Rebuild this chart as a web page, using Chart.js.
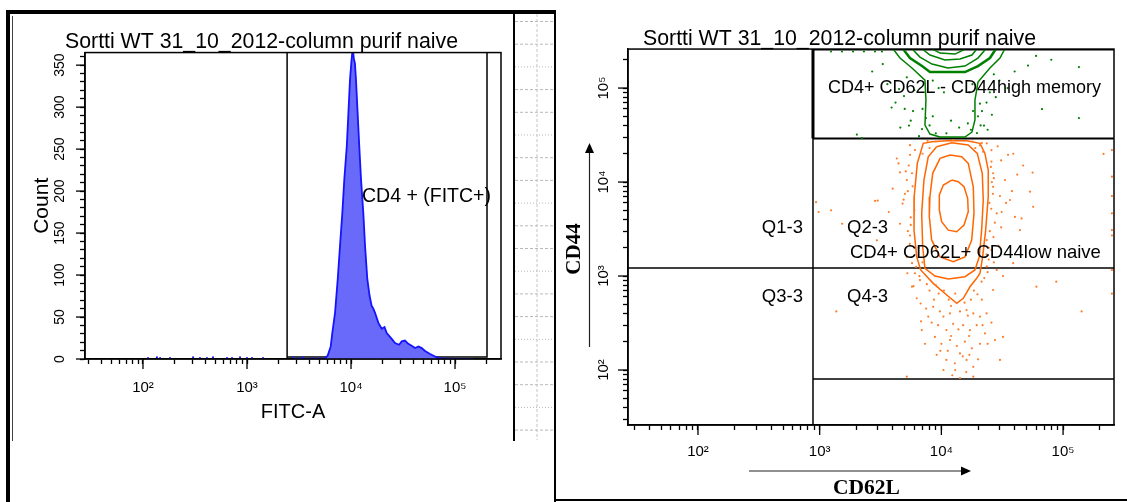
<!DOCTYPE html>
<html>
<head>
<meta charset="utf-8">
<title>Sortti WT 31_10_2012-column purif naive</title>
<script src="https://cdn.jsdelivr.net/npm/chart.js@4.4.1/dist/chart.umd.min.js"></script>
<style>
html,body{margin:0;padding:0;background:#fff;}
body{width:1127px;height:502px;position:relative;overflow:hidden;font-family:"Liberation Sans",Arial,sans-serif;color:#000;}
canvas{position:absolute;top:0;}
#left{left:0;}
#right{left:556px;}
svg{position:absolute;left:0;top:0;pointer-events:none;}
.t{position:absolute;white-space:nowrap;line-height:1;font-family:"Liberation Sans",Arial,sans-serif;}
.serif{font-family:"Liberation Serif","Times New Roman",serif;font-weight:bold;}
</style>
</head>
<body>
<canvas id="left" width="520" height="432"></canvas>
<canvas id="right" width="571" height="502"></canvas>
<svg id="deco" width="1127" height="502"></svg>

<div class="t" style="left:362px;top:185.5px;font-size:19.5px">CD4 + (FITC+)</div>
<div class="t" style="left:828px;top:78px;font-size:18px">CD4+ CD62L - CD44high memory</div>
<div class="t" style="right:324px;top:218px;font-size:18.5px">Q1-3</div>
<div class="t" style="left:847px;top:218px;font-size:18.5px">Q2-3</div>
<div class="t" style="left:850px;top:243px;font-size:18.5px">CD4+ CD62L+ CD44low naive</div>
<div class="t" style="right:324px;top:287px;font-size:18.5px">Q3-3</div>
<div class="t" style="left:847px;top:287px;font-size:18.5px">Q4-3</div>
<div class="t serif" style="left:573px;top:249px;font-size:21px;transform:translate(-50%,-50%) rotate(-90deg);">CD44</div>
<div class="t serif" style="left:833px;top:477px;font-size:21.5px">CD62L</div>

<script>
// ================= DATA =================
const chartTitle = 'Sortti WT 31_10_2012-column purif naive';
const decadeLabels = {100: '10\u00B2', 1000: '10\u00B3', 10000: '10\u2074', 100000: '10\u2075'};
const decadeValues = [100, 1000, 10000, 100000];
const countTicks = [0,10,20,30,40,50,60,70,80,90,100,110,120,130,140,150,160,170,180,190,200,210,220,230,240,250,260,270,280,290,300,310,320,330,340,350,360];
const countTickLabels = [0, 50, 100, 150, 200, 250, 300, 350];

// ---- Histogram (FITC-A vs Count) ----
const fitcValues = [2800,5500,5970,6380,6610,7020,7450,7840,8250,8620,9100,9430,9780,10100,10370,10650,10910,11160,11590,12010,12480,13130,13640,14350,15100,15820,16400,17020,18320,19740,21000,22040,24620,26490,29000,30740,33000,35570,38000,41230,44500,47830,51510,57540,64300,69060,80200,100000,150000];
const fitcCounts = [0,0,4,15,31,55,95,135,174,214,253,292,333,355,370,358,352,333,292,253,214,174,135,95,75,63,60,55,43,36,38,31,24,19,17,21,22,18,16,13,15,13,9.5,6,3,1,0.5,0,0];
const lowFitcValues = [112,136,146,182,303,353,412,471,642,718,857,1000,1117,1425,2770,3233,3455,4310,5035];
const lowFitcCounts = [1,2,1,1,2,1,1,2,1,1,2,1,1,1,2,1,2,1,1];
const fitcGateX = [2430, 203000];
const fitcGateFloor = 2.4;

// ---- CD62L vs CD44 plot ----
const qSplitCD62L = 881;
const qSplitCD44 = 1217;
const memoryGateCD44 = 29000;
const naiveGateFloorCD44 = 80;

const naiveContour1 = [[8320,26850],[7100,25820],[6340,15810],[5980,6980],[5960,3080],[6270,1600],[6760,1160],[8570,836],[11070,628],[13370,513],[15140,579],[17180,769],[19500,946],[20750,1070],[21830,1600],[23120,3080],[24270,6980],[24270,13430],[22800,20180],[20750,25820],[16140,27480],[11070,27480],[8320,26850]];
const naiveContour2 = [[9140,23770],[7800,18580],[7190,10500],[6890,4640],[7020,2050],[7330,1210],[8850,1000],[11400,929],[15630,984],[18880,1160],[20480,1600],[21420,3080],[22090,6440],[21680,12390],[19720,20180],[16630,24770],[12160,26180],[9140,23770]];
const naiveContour3 = [[11780,19360],[9750,17860],[8490,12390],[8050,6980],[7960,4280],[8320,2420],[9750,1600],[12530,1420],[15630,1600],[17750,2420],[18540,4640],[18290,8910],[16630,15810],[14690,18580],[11780,19360]];
const naiveContour4 = [[12160,10500],[10380,9290],[9620,7280],[9620,5040],[10050,3790],[11400,3080],[13370,2960],[15350,3490],[16630,4830],[16440,6710],[15350,8910],[13770,10070],[12160,10500]];

const memoryContour1 = [[4000,262000],[4570,208600],[5730,163300],[7330,121600],[7470,74500],[7330,40400],[8060,32400],[9740,30100],[15630,30100],[17830,34000],[18880,45700],[18880,74500],[19990,115900],[25060,163300],[30290,208600],[33310,262000]];
const memoryContour2 = [[4830,262000],[5520,208600],[6930,171400],[8060,147900],[15630,147900],[19990,171400],[25060,208600],[28100,262000]];
const memoryContour3 = [[5730,262000],[6670,213800],[8370,180000],[11330,163300],[15630,171400],[19990,208600],[23250,262000]];
const memoryContour4 = [[6930,262000],[8060,224500],[10710,198600],[14220,203700],[17830,224500],[19620,262000]];
const memoryContour5 = [[8370,262000],[9740,235500],[12930,230000],[15930,262000]];

const naiveDots = [
[933,6100],[980,4800],[1240,5000],[1530,3600],[1370,420],
[2850,6300],[3000,6350],[3700,4800],[3980,8500],[4300,17800],[4440,15800],[4570,3600],[2950,2400],[5200,10500],[5250,1070],[5520,19500],[5740,770],[5020,7500],[6270,580],[6760,510],
[25800,16500],[26600,12400],[30300,7100],[31300,4800],[35300,19500],[36600,6440],[40200,4250],[44200,3085],[45600,4100],[53500,7900],[56200,12600],[56800,5450],[60400,770],[87900,870],[142000,420],[215000,19900],
[252000,21900],[252000,11400],[252000,7100],[252000,4650],[252000,3085],[252000,2700],[252000,1160],[252000,650],
[5740,12400],[6070,21900],[20750,24700],[23600,25800],[25800,21900],
[5520,2700],[5200,1600],[5740,1370],[6070,1070],[6670,906],[5900,780],
[23600,2415],[25800,1890],[23600,1265],[21400,870],[28500,1160],[32100,1000],[38900,1370],[26600,710],
[8570,470],[9730,420],[10400,370],[11770,400],[14220,420],[16100,435],[18300,400],[20750,370],
[8320,320],[9400,300],[11000,266],[12500,310],[15100,300],[17180,266],[19500,300],[22800,245],
[8850,225],[10000,190],[11770,208],[13400,180],[15600,200],[17800,170],[20750,190],
[9150,145],[11000,128],[12900,118],[14220,150],[16100,128],[18300,108],
[10400,100],[12300,88],[14220,82],[18300,85],
[7800,370],[6900,266],[7330,190],[25800,320],[27550,208],[32100,225],[30300,128],[5200,85],
[5520,24700],[4570,12700],[4800,5900],[26600,8900],[28500,4650],[33300,10500],
[8000,700],[8700,560],[9500,650],[12000,480],[17500,560],[19800,640],[21500,560],[7600,820],[22500,950],[24000,1100],[7000,1400],[6500,2000],[24500,1500],[25000,3000],[5600,3500],[6000,5000],[24800,6000],[5800,9000],[26000,10000],[7000,20000],[8000,23000],[22000,21000],[19000,23000],
[5400,15000],[5100,13000],[5300,8000],[4900,6500],[5600,4200],[5300,3000],[5500,2200],[6200,1250],[6600,1000],
[25500,14500],[27000,11000],[26500,7500],[25700,5200],[27500,3700],[26800,2600],[24500,2000],[23500,1700],[27000,1400],[29500,2100],[31000,3300],[34000,6000],[38000,8000],[42000,12000],[47000,15000],[39000,20000],[29000,24000],[31000,17000],
[11500,560],[13000,650],[15500,520],[10500,700],[9000,800],[18500,700],[16500,380],[13800,270],[12000,230],[16900,230],[21800,300],[23500,400],[7500,450],[6800,330],[24000,190],[9800,160],[15000,140],[20000,130],[13000,100],[16000,95],[11300,160],[17000,145],
[9000,27000],[12500,28000],[18000,27000],[21500,26000],[7700,27500]
];

const memoryDots = [
[1240,245000],[1525,245000],[1880,245000],[2310,245000],[2850,245000],[3250,245000],
[2020,32000],[2230,29400],[51500,173400],[135000,167100],[67100,59800],[135000,47900],
[20750,68200],[21560,56900],[22400,39900],[18200,56900],[7470,47900],[6930,36600],[6550,30800],[5850,56900],[5420,39900],[19600,33200],[4490,97500],[4930,82200],
[5000,60000],[5600,45000],[8000,40000],[16500,42000],[23500,70000],[26000,52000],[24000,36000],[9000,33000],[4200,70000],[28000,80000],[30000,120000],[3600,110000],
[8500,120000],[9500,100000],[10500,90000],[17000,90000],[18000,110000],[6000,95000],[5200,130000],[3300,180000],[2700,150000],[40000,150000],[60000,220000],[80000,200000],[7000,60000],[20000,50000],[21000,40000],[17500,36000],[8500,50000],[12000,45000],[14000,38000],[11000,33000],[3900,62000],[4600,38000],[25000,90000],[35000,100000],[27000,140000]
];

// ================= HELPERS =================
const FONT = "'Liberation Sans', Arial, sans-serif";
const pairs = arr => arr.map(p => ({x: p[0], y: p[1]}));
const zip = (xs, ys) => xs.map((x, i) => ({x: x, y: ys[i]}));
function logTicks(scale) {
  const out = [];
  for (let e = 1; e <= 5; e++) for (let m = 1; m <= 9; m++) {
    const v = m * Math.pow(10, e);
    if (v >= scale.min && v <= scale.max) out.push({value: v});
  }
  scale.ticks = out;
}
const decadeLabel = v => decadeLabels[v] || '';

const framePlugin = {
  id: 'frame',
  afterDraw(chart) {
    const a = chart.chartArea, ctx = chart.ctx;
    ctx.save(); ctx.strokeStyle = '#000'; ctx.lineWidth = 1.5;
    ctx.strokeRect(a.left, a.top, a.right - a.left, a.bottom - a.top);
    ctx.restore();
  }
};
const majorTickPlugin = {
  id: 'majorTicks',
  afterDraw(chart, args, opts) {
    const ctx = chart.ctx;
    ctx.save(); ctx.strokeStyle = '#000'; ctx.lineWidth = 1.3;
    (opts.axes || []).forEach(a => {
      const s = chart.scales[a.id];
      a.values.forEach(v => {
        if (v < s.min || v > s.max) return;
        const p = s.getPixelForValue(v);
        ctx.beginPath();
        if (s.isHorizontal()) { ctx.moveTo(p, s.top); ctx.lineTo(p, s.top + a.len); }
        else { ctx.moveTo(s.right, p); ctx.lineTo(s.right - a.len, p); }
        ctx.stroke();
      });
    });
    ctx.restore();
  }
};

Chart.defaults.color = '#000';
Chart.defaults.font.family = FONT;

const baseAxis = {
  grid: {drawOnChartArea: false, drawTicks: true, tickLength: 5, tickColor: '#000', tickWidth: 1.3},
  border: {display: true, color: '#000', width: 1.5}
};

// ================= LEFT: histogram =================
new Chart(document.getElementById('left'), {
  type: 'line',
  data: {
    datasets: [
      {data: zip(fitcValues, fitcCounts), borderColor: 'rgb(20,20,255)', backgroundColor: 'rgb(106,106,250)', borderWidth: 1.8, fill: 'origin', pointRadius: 0, tension: 0},
      {data: zip(lowFitcValues, lowFitcCounts), showLine: false, pointRadius: 1.1, pointBackgroundColor: 'rgb(30,30,255)', pointBorderWidth: 0},
      {data: [{x: fitcGateX[0], y: 365}, {x: fitcGateX[0], y: 0}], borderColor: '#000', borderWidth: 1.5, pointRadius: 0, fill: false},
      {data: [{x: fitcGateX[0], y: fitcGateFloor}, {x: fitcGateX[1], y: fitcGateFloor}, {x: fitcGateX[1], y: 365}], borderColor: '#000', borderWidth: 1.5, pointRadius: 0, fill: false}
    ]
  },
  options: {
    responsive: false, animation: false, devicePixelRatio: 1, events: [],
    layout: {padding: {left: 22, right: 19, top: 0, bottom: 0}},
    plugins: {
      legend: {display: false}, tooltip: {enabled: false},
      title: {display: true, text: chartTitle, color: '#000', font: {size: 21.3, weight: 'normal', family: FONT}, padding: {top: 29, bottom: -2}},
      majorTicks: {axes: [{id: 'x', values: decadeValues, len: 10}, {id: 'y', values: countTickLabels, len: 9}]}
    },
    scales: {
      x: Object.assign({}, baseAxis, {
        type: 'logarithmic', min: 27.7, max: 276700,
        afterBuildTicks: logTicks,
        afterFit: s => { s.height = 73; },
        ticks: {callback: decadeLabel, autoSkip: false, maxRotation: 0, minRotation: 0, padding: 15, font: {size: 15, family: FONT}},
        title: {display: true, text: 'FITC-A', font: {size: 20, family: FONT}, padding: {top: 0, bottom: 8}}
      }),
      y: Object.assign({}, baseAxis, {
        type: 'linear', min: 0, max: 365,
        afterBuildTicks: s => { s.ticks = countTicks.map(v => ({value: v})); },
        afterFit: s => { s.width = 63; },
        ticks: {callback: v => countTickLabels.includes(v) ? String(v) : '', autoSkip: false, minRotation: 90, maxRotation: 90, crossAlign: 'center', padding: 8, font: {size: 14, family: FONT}},
        title: {display: true, text: 'Count', font: {size: 21, family: FONT}, padding: {top: 8, bottom: 0}}
      })
    }
  },
  plugins: [framePlugin, majorTickPlugin]
});

// ================= RIGHT: CD62L vs CD44 =================
const orange = 'rgb(255,102,0)', orangeDot = 'rgb(255,125,40)', green = 'rgb(0,128,0)';
const contourDs = (arr, col, w) => ({data: pairs(arr), borderColor: col, borderWidth: w || 1.5, pointRadius: 0, fill: false, tension: 0});
const lineDs = (pts, w) => ({data: pts, borderColor: '#000', borderWidth: w, pointRadius: 0, fill: false});
const XMIN = 26.6, XMAX = 262144, YMIN = 26, YMAX = 260000;

new Chart(document.getElementById('right'), {
  type: 'line',
  data: {
    datasets: [
      {data: pairs(naiveDots), showLine: false, pointRadius: 1.1, pointBackgroundColor: orangeDot, pointBorderWidth: 0},
      {data: pairs(memoryDots), showLine: false, pointRadius: 1.1, pointBackgroundColor: green, pointBorderWidth: 0},
      contourDs(naiveContour1, orange), contourDs(naiveContour2, orange), contourDs(naiveContour3, orange), contourDs(naiveContour4, orange),
      contourDs(memoryContour1, green), contourDs(memoryContour2, green, 2.5), contourDs(memoryContour3, green), contourDs(memoryContour4, green), contourDs(memoryContour5, green),
      lineDs([{x: qSplitCD62L, y: YMIN}, {x: qSplitCD62L, y: YMAX}], 1.5),
      lineDs([{x: XMIN, y: qSplitCD44}, {x: XMAX, y: qSplitCD44}], 1.5),
      lineDs([{x: qSplitCD62L, y: naiveGateFloorCD44}, {x: XMAX, y: naiveGateFloorCD44}], 1.5),
      lineDs([{x: qSplitCD62L, y: memoryGateCD44}, {x: XMAX, y: memoryGateCD44}], 2),
      lineDs([{x: qSplitCD62L, y: memoryGateCD44}, {x: qSplitCD62L, y: YMAX}, {x: XMAX, y: YMAX}], 3)
    ]
  },
  options: {
    responsive: false, animation: false, devicePixelRatio: 1, events: [],
    layout: {padding: {left: 9, right: 13, top: 0, bottom: 0}},
    plugins: {
      legend: {display: false}, tooltip: {enabled: false},
      title: {display: true, text: chartTitle, color: '#000', font: {size: 21.3, weight: 'normal', family: FONT}, padding: {top: 26, bottom: -2.5}},
      majorTicks: {axes: [{id: 'x', values: decadeValues, len: 10}, {id: 'y', values: decadeValues, len: 10}]}
    },
    scales: {
      x: Object.assign({}, baseAxis, {
        type: 'logarithmic', min: XMIN, max: XMAX,
        afterBuildTicks: logTicks,
        afterFit: s => { s.height = 77; },
        ticks: {callback: decadeLabel, autoSkip: false, maxRotation: 0, minRotation: 0, padding: 13, font: {size: 15, family: FONT}}
      }),
      y: Object.assign({}, baseAxis, {
        type: 'logarithmic', min: YMIN, max: YMAX,
        afterBuildTicks: logTicks,
        afterFit: s => { s.width = 63; },
        ticks: {callback: decadeLabel, autoSkip: false, minRotation: 90, maxRotation: 90, crossAlign: 'center', padding: 8, font: {size: 15, family: FONT}}
      })
    }
  },
  plugins: [framePlugin, majorTickPlugin]
});

// ================= PAGE DECORATION (document frame, arrows) =================
(function () {
  const NS = 'http://www.w3.org/2000/svg';
  const svg = document.getElementById('deco');
  const el = (tag, attrs) => { const e = document.createElementNS(NS, tag); for (const k in attrs) e.setAttribute(k, attrs[k]); svg.appendChild(e); return e; };
  for (let i = 0; i < 19; i++) {
    const y = 21.5 + i * 22.7;
    el('line', {x1: 515, y1: y, x2: 554, y2: y, stroke: '#b8b8b8', 'stroke-width': 1, 'stroke-dasharray': i % 3 === 2 ? '1 2' : '3 2'});
  }
  el('line', {x1: 537, y1: 14, x2: 537, y2: 440, stroke: '#c4c4c4', 'stroke-width': 1, 'stroke-dasharray': '3 2'});
  el('rect', {x: 6, y: 10, width: 4, height: 492, fill: '#000'});
  el('rect', {x: 6, y: 10, width: 550, height: 4, fill: '#000'});
  el('line', {x1: 12.5, y1: 16, x2: 12.5, y2: 441, stroke: '#444', 'stroke-width': 1});
  el('rect', {x: 513, y: 12, width: 2, height: 429, fill: '#000'});
  el('rect', {x: 554, y: 12, width: 2, height: 490, fill: '#000'});
  el('rect', {x: 554, y: 499, width: 573, height: 2, fill: '#000'});
  el('line', {x1: 589.5, y1: 347, x2: 589.5, y2: 150, stroke: '#222', 'stroke-width': 1.2});
  el('polygon', {points: '589.5,143 585,153 594,153', fill: '#000'});
  el('line', {x1: 749, y1: 471, x2: 963, y2: 471, stroke: '#222', 'stroke-width': 1.2});
  el('polygon', {points: '971,471 961,466.5 961,475.5', fill: '#000'});
})();
</script>
</body>
</html>
